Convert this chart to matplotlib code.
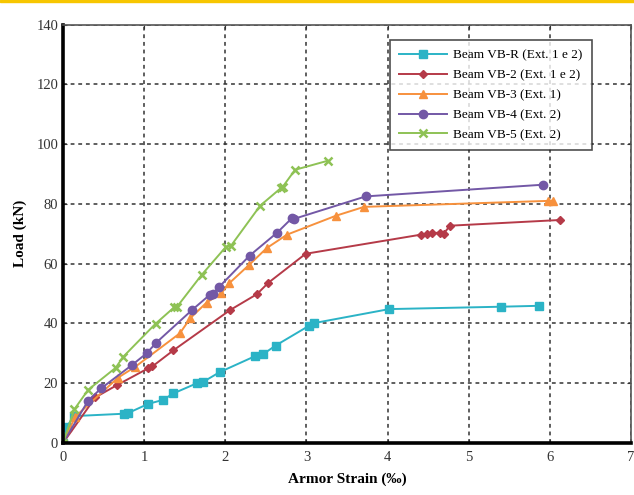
import matplotlib.pyplot as plt
from matplotlib.patches import Rectangle

plt.rcParams['font.family'] = ['Liberation Serif', 'DejaVu Serif']

# Beam VB-R (Ext. 1 e 2)
vbr_x = [0, 0.05, 0.13, 0.75, 0.80, 1.05, 1.23, 1.36, 1.65, 1.73, 1.93, 2.37, 2.47, 2.62, 3.03, 3.09, 4.02, 5.40, 5.86]
vbr_y = [0, 5.5, 9.0, 9.8, 10.0, 13.1, 14.4, 16.6, 20.0, 20.5, 23.7, 29.1, 29.8, 32.6, 39.2, 40.1, 44.8, 45.6, 45.9]

# Beam VB-2 (Ext. 1 e 2)
vb2_x = [0, 0.40, 0.66, 1.05, 1.10, 1.36, 2.06, 2.39, 2.53, 2.99, 4.41, 4.49, 4.55, 4.65, 4.69, 4.77, 6.12]
vb2_y = [0, 15.3, 19.3, 25.0, 25.6, 31.0, 44.5, 49.8, 53.6, 63.3, 69.7, 70.0, 70.2, 70.4, 70.0, 72.7, 74.6]

# Beam VB-3 (Ext. 1)
vb3_x = [0, 0.15, 0.68, 0.89, 1.44, 1.57, 1.77, 1.95, 2.05, 2.29, 2.51, 2.76, 3.36, 3.71, 5.98, 6.04]
vb3_y = [0, 8.8, 21.9, 25.5, 36.7, 41.8, 47.0, 50.1, 53.5, 59.5, 65.2, 69.7, 76.0, 79.0, 81.0, 81.1]

# Beam VB-4 (Ext. 2)
vb4_x = [0, 0.31, 0.47, 0.85, 1.03, 1.15, 1.59, 1.81, 1.85, 1.92, 2.30, 2.64, 2.82, 2.85, 3.73, 5.91]
vb4_y = [0, 14.2, 18.3, 26.1, 30.0, 33.6, 44.5, 49.6, 50.0, 52.1, 62.7, 70.4, 75.2, 75.0, 82.5, 86.4]

# Beam VB-5 (Ext. 2)
vb5_x = [0, 0.14, 0.31, 0.65, 0.74, 1.14, 1.37, 1.40, 1.71, 2.01, 2.07, 2.43, 2.69, 2.71, 2.86, 3.26]
vb5_y = [0, 11.3, 17.8, 25.2, 28.8, 39.9, 45.4, 45.4, 56.3, 65.7, 66.0, 79.4, 85.4, 85.8, 91.4, 94.4]

fig = plt.figure(figsize=(6.34, 4.95), dpi=100)
fig.patches.append(Rectangle((0, 0.995), 1, 0.005, transform=fig.transFigure,
                             color='#F7C600', zorder=0))
ax = fig.add_axes([0.0994, 0.105, 0.8959, 0.8455])

ax.plot(vbr_x, vbr_y, color='#2BB3C6', marker='s', ms=5.5, lw=1.4, label='Beam VB-R (Ext. 1 e 2)')
ax.plot(vb2_x, vb2_y, color='#B53A48', marker='D', ms=4, lw=1.4, label='Beam VB-2 (Ext. 1 e 2)')
ax.plot(vb3_x, vb3_y, color='#F7913D', marker='^', ms=5.5, lw=1.4, label='Beam VB-3 (Ext. 1)')
ax.plot(vb4_x, vb4_y, color='#7358A6', marker='o', ms=6, lw=1.4, label='Beam VB-4 (Ext. 2)')
ax.plot(vb5_x, vb5_y, color='#8EC255', marker='x', ms=6, mew=1.8, lw=1.4, label='Beam VB-5 (Ext. 2)')

ax.set_xlim(0, 7)
ax.set_ylim(0, 140)
ax.set_xticks(range(0, 8))
ax.set_yticks(range(0, 141, 20))
ax.grid(True, color='#333333', linestyle=(0, (2.5, 2.5)), lw=1.1)
ax.tick_params(direction='in', length=3, labelsize=10.5, top=True, right=True,
               colors='#333333')
ax.tick_params(axis='x', pad=6)

for s in ['left', 'bottom']:
    ax.spines[s].set_linewidth(2.6)
    ax.spines[s].set_color('black')
for s in ['top', 'right']:
    ax.spines[s].set_linewidth(1.2)
    ax.spines[s].set_color('#555555')

ax.set_xlabel('Armor Strain (‰)', fontweight='bold', fontsize=11, labelpad=6)
ax.set_ylabel('Load (kN)', fontweight='bold', fontsize=11, labelpad=7)

leg = ax.legend(loc='upper right', bbox_to_anchor=(0.931, 0.963), fontsize=9.5,
                frameon=True, fancybox=False, edgecolor='#222222',
                handlelength=3.6, labelspacing=0.58, borderpad=0.7,
                handletextpad=0.5, borderaxespad=0)
leg.get_frame().set_linewidth(1.2)

fig.savefig('out.png', dpi=100)
